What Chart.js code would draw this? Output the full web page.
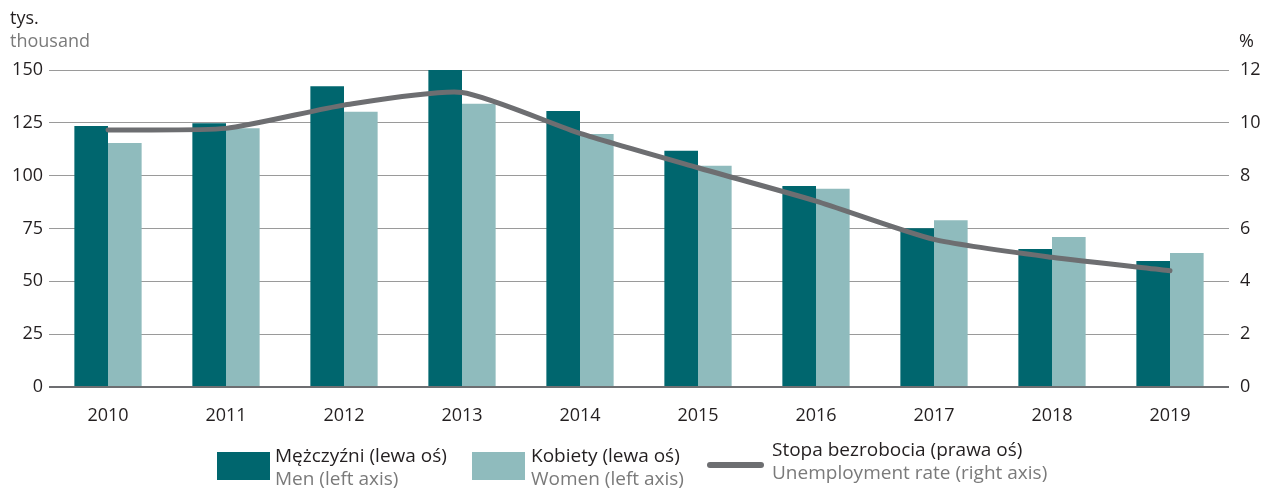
<!DOCTYPE html>
<html>
<head>
<meta charset="utf-8">
<script src="https://cdn.jsdelivr.net/npm/chart.js@4"></script>
<style>
    body { margin: 0; background: #fff; font-family: "Open Sans", sans-serif; }
    #wrap { position: relative; width: 1263px; height: 489px; }
    .lbl { position: absolute; font-size: 18px; line-height: 23px; white-space: nowrap; }
    .leg { font-size: 19px; }
    .pl { color: #231f20; }
    .en { color: #7a7a7a; }
    .box { position: absolute; }
</style>
</head>
<body>
<div id="wrap">
    <canvas id="chart" width="1263" height="489"></canvas>
    <!-- axis titles -->
    <div class="lbl pl" style="left:10px; top:6px;">tys.</div>
    <div class="lbl en" style="left:10px; top:29px;">thousand</div>
    <div class="lbl pl" style="left:1239px; top:29px;">%</div>
    <!-- legend -->
    <div class="box" style="left:217px; top:452px; width:53px; height:28px; background:#00666e;"></div>
    <div class="lbl leg pl" style="left:275px; top:444px;">Mężczyźni (lewa oś)</div>
    <div class="lbl leg en" style="left:275px; top:467px;">Men (left axis)</div>
    <div class="box" style="left:472px; top:452px; width:53px; height:28px; background:#8fbbbd;"></div>
    <div class="lbl leg pl" style="left:531px; top:444px;">Kobiety (lewa oś)</div>
    <div class="lbl leg en" style="left:531px; top:467px;">Women (left axis)</div>
    <div class="box" style="left:707px; top:462px; width:57px; height:6px; border-radius:3px; background:#6d6e71;"></div>
    <div class="lbl leg pl" style="left:772px; top:438px;">Stopa bezrobocia (prawa oś)</div>
    <div class="lbl leg en" style="left:772px; top:461px;">Unemployment rate (right axis)</div>
</div>
<script>
//Chart data
const years = ['2010', '2011', '2012', '2013', '2014', '2015', '2016', '2017', '2018', '2019'];
const men = [123.5, 124.8, 142.3, 150, 130.6, 111.8, 95.1, 75.1, 65.3, 59.6];
const women = [115.5, 122.4, 130.3, 134, 119.7, 104.7, 93.8, 78.9, 71, 63.4];
const unemployment = [9.73, 9.79, 10.67, 11.15, 9.6, 8.3, 7.04, 5.59, 4.91, 4.4];
const leftTicks = [0, 25, 50, 75, 100, 125, 150];
const rightTicks = [0, 2, 4, 6, 8, 10, 12];

const tickFont = {family: '"Open Sans", sans-serif', size: 18};

new Chart("chart", {
    type: 'bar',
    data: {
        labels: years,
        datasets: [
            {
                type: 'line',
                data: unemployment,
                yAxisID: 'y1',
                borderColor: '#6d6e71',
                borderWidth: 5,
                borderCapStyle: 'round',
                pointRadius: 0,
                tension: 0.2,
                order: 0
            },
            {
                data: men,
                yAxisID: 'y',
                backgroundColor: '#00666e',
                categoryPercentage: 0.57,
                barPercentage: 1,
                order: 1
            },
            {
                data: women,
                yAxisID: 'y',
                backgroundColor: '#8fbbbd',
                categoryPercentage: 0.57,
                barPercentage: 1,
                order: 1
            }
        ]
    },
    options: {
        responsive: false,
        animation: false,
        layout: {padding: {top: 70, bottom: 62, left: 0, right: 0}},
        plugins: {
            legend: {display: false},
            tooltip: {enabled: false}
        },
        scales: {
            x: {
                grid: {display: false},
                border: {display: false},
                ticks: {color: '#231f20', font: tickFont, padding: 10, maxRotation: 0},
                afterFit: (scale) => { scale.height = 40; }
            },
            y: {
                position: 'left',
                min: 0,
                max: 150,
                afterBuildTicks: (scale) => { scale.ticks = leftTicks.map(v => ({value: v})); },
                grid: {
                    color: (ctx) => ctx.tick && ctx.tick.value === 0 ? '#6d6e71' : '#9a9a9a',
                    lineWidth: (ctx) => ctx.tick && ctx.tick.value === 0 ? 2 : 1,
                    drawTicks: false
                },
                border: {display: false},
                ticks: {color: '#231f20', font: tickFont, padding: 6},
                afterFit: (scale) => { scale.width = 49; }
            },
            y1: {
                position: 'right',
                min: 0,
                max: 12,
                afterBuildTicks: (scale) => { scale.ticks = rightTicks.map(v => ({value: v})); },
                grid: {display: false, drawTicks: false},
                border: {display: false},
                ticks: {color: '#231f20', font: tickFont, padding: 11},
                afterFit: (scale) => { scale.width = 34; }
            }
        }
    }
});
</script>
</body>
</html>
